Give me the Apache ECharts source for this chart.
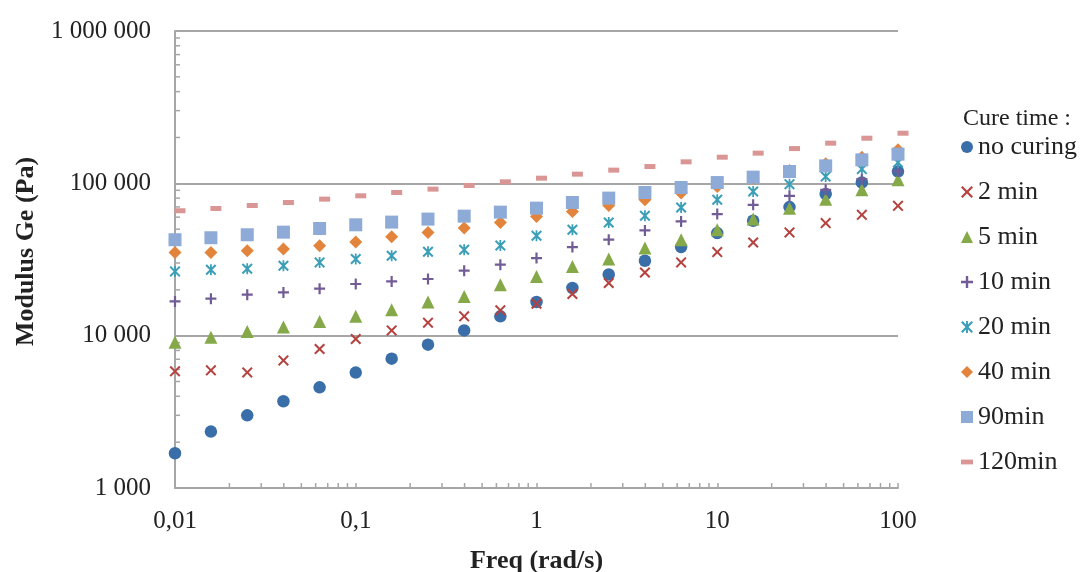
<!DOCTYPE html>
<html><head><meta charset="utf-8">
<script src="https://cdn.jsdelivr.net/npm/echarts@6/dist/echarts.min.js"></script>
<style>html,body{margin:0;padding:0;background:#fff}#c{width:1082px;height:572px}</style>
</head><body><div id="c"></div>
<script>
const freq = [0.01,0.0158,0.0251,0.0398,0.0631,0.1,0.158,0.251,0.398,0.631,1,1.58,2.51,3.98,6.31,10,15.8,25.1,39.8,63.1,100];
const noCuring = [1690,2345,3000,3710,4580,5720,7060,8730,10830,13390,16630,20550,25240,31030,38160,47120,56770,69800,84950,101200,119600];
const min2 = [5830,5920,5740,6880,8180,9510,10830,12170,13390,14660,16210,18770,22160,26000,30250,35380,40920,47600,54830,62140,71170];
const min5 = [9040,9750,10670,11400,12400,13390,14800,16630,18110,21590,24480,28500,31860,37580,42640,49590,58240,68710,78760,90660,105400];
const min10 = [16790,17490,18570,19230,20340,21830,22700,23550,26690,29230,32300,38160,42640,49060,56200,62810,72250,82810,90660,106500,119600];
const min20 = [26400,27100,27500,28760,30250,31860,33470,35560,36650,39100,45260,49590,55330,61240,69400,77980,88350,98800,110900,124000,136900];
const min40 = [35160,35160,36100,37020,38900,41140,44580,47640,50830,55330,60570,65300,71500,77980,86250,95300,108100,121300,134200,148500,165900];
const min90 = [42640,43940,45960,47820,50520,53420,55650,58240,60900,64700,68710,74860,79980,87050,93930,101200,109800,119600,130200,142600,155400];
const min120 = [66070,68390,71500,74860,78760,82810,87050,91620,96800,102300,108100,114900,122100,128900,138400,148500,157800,169100,183500,197800,213300];
const seriesNames = ['no curing','2 min','5 min','10 min','20 min','40 min','90min','120min'];
const seriesValues = [noCuring,min2,min5,min10,min20,min40,min90,min120];
const colors = ['#3a6ea9','#b5423f','#85a848','#725c96','#3c9fb8','#e3843c','#8eaad6','#d99694'];
const xMin = 0.01, xMax = 100, yMin = 1000, yMax = 1000000;
const xDecades = [0.01,0.1,1,10];
const yDecades = [1000,10000,100000];
const minorMult = [2,3,4,5,6,7,8,9];

const FONT = '"Liberation Serif", "Times New Roman", serif';
const GRAY = '#a6a6a6';
const TXT = '#222';

const P_X = 'path://M0,1.3L1.3,0L5,3.7L8.7,0L10,1.3L6.3,5L10,8.7L8.7,10L5,6.3L1.3,10L0,8.7L3.7,5Z';
const P_PLUS = 'path://M4,0h2v4h4v2h-4v4h-2v-4h-4v-2h4z';
const P_STAR = 'path://M0,1.3L1.3,0L5,3.7L8.7,0L10,1.3L6.3,5L10,8.7L8.7,10L5,6.3L1.3,10L0,8.7L3.7,5Z M4.2,0h1.6v10h-1.6z';
const P_DASH = 'path://M0,0h10v4h-10z';
const symbols = ['circle', P_X, 'triangle', P_PLUS, P_STAR, 'diamond', 'rect', 'rect'];
const sizes = [12.5, 11, 13, 11, 11, 13, 13, [11,5]];
const offsets = [[0,0],[0,0],[0,0],[0,0],[0,0],[0,0],[0,0],[5,0]];
const legendIcons = ['circle', P_X, 'triangle', P_PLUS, P_STAR, 'diamond', 'rect', P_DASH];

const xMinor = [];
xDecades.forEach(d => minorMult.forEach(m => xMinor.push([d*m, yMin])));
const yMinor = [];
yDecades.forEach(d => minorMult.forEach(m => yMinor.push([xMin, d*m])));

const scatterSeries = seriesNames.map((n, i) => ({
  name: n, type: 'scatter',
  data: freq.map((f, k) => [f, seriesValues[i][k]]),
  symbol: symbols[i], symbolSize: sizes[i], symbolOffset: offsets[i],
  itemStyle: { color: colors[i], opacity: 1 },
  emphasis: { disabled: true },
  z: 3
}));

const tickSeries = (data, dir) => ({
  type: 'custom', silent: true, clip: false, z: 2,
  data: data,
  renderItem: (params, api) => {
    const p = api.coord([api.value(0), api.value(1)]);
    const q = dir === 'x' ? [p[0], p[1]-5] : [p[0]+5, p[1]];
    return { type: 'line', shape: { x1: p[0], y1: p[1], x2: q[0], y2: q[1] },
      style: { stroke: GRAY, lineWidth: 1.5 } };
  }
});

const fmtY = v => String(Math.round(v)).replace(/\B(?=(\d{3})+(?!\d))/g, ' ');
const fmtX = v => String(+v.toPrecision(6)).replace('.', ',');

const chart = echarts.init(document.getElementById('c'), null, { renderer: 'canvas' });
chart.setOption({
  animation: false,
  backgroundColor: '#fff',
  textStyle: { fontFamily: FONT },
  title: {
    text: 'Cure time :', left: 958, top: 102,
    textStyle: { fontFamily: FONT, fontSize: 24, fontWeight: 'normal', color: TXT }
  },
  grid: { left: 175, right: 184, top: 31, bottom: 84, containLabel: false, outerBoundsMode: 'none' },
  legend: {
    orient: 'vertical', left: 961, top: 134, padding: 0,
    itemWidth: 12, itemHeight: 12, itemGap: 19,
    data: seriesNames.map((n, i) => ({ name: n, icon: legendIcons[i] })),
    textStyle: { fontFamily: FONT, fontSize: 26, color: TXT, lineHeight: 26 },
    selectedMode: false
  },
  xAxis: {
    type: 'log', logBase: 10, min: xMin, max: xMax,
    name: 'Freq (rad/s)', nameLocation: 'middle', nameGap: 60,
    nameTextStyle: { fontFamily: FONT, fontSize: 26, fontWeight: 'bold', color: TXT },
    axisLine: { show: true, lineStyle: { color: GRAY, width: 2 } },
    axisTick: { show: true, inside: true, length: 5, lineStyle: { color: GRAY, width: 1.5 } },
    axisLabel: { formatter: fmtX, fontFamily: FONT, fontSize: 25, color: TXT, margin: 21 },
    splitLine: { show: false }, minorTick: { show: false }
  },
  yAxis: {
    type: 'log', logBase: 10, min: yMin, max: yMax,
    name: 'Modulus Ge (Pa)', nameLocation: 'middle', nameGap: 136,
    nameTextStyle: { fontFamily: FONT, fontSize: 26, fontWeight: 'bold', color: TXT, padding: [0, 0, 0, 16] },
    axisLine: { show: true, lineStyle: { color: GRAY, width: 2 } },
    axisTick: { show: true, inside: true, length: 5, lineStyle: { color: GRAY, width: 1.5 } },
    axisLabel: { formatter: fmtY, fontFamily: FONT, fontSize: 25, color: TXT, margin: 24 },
    splitLine: { show: true, lineStyle: { color: GRAY, width: 2 } }, minorTick: { show: false }
  },
  series: [tickSeries(xMinor, 'x'), tickSeries(yMinor, 'y')].concat(scatterSeries)
});
</script></body></html>
